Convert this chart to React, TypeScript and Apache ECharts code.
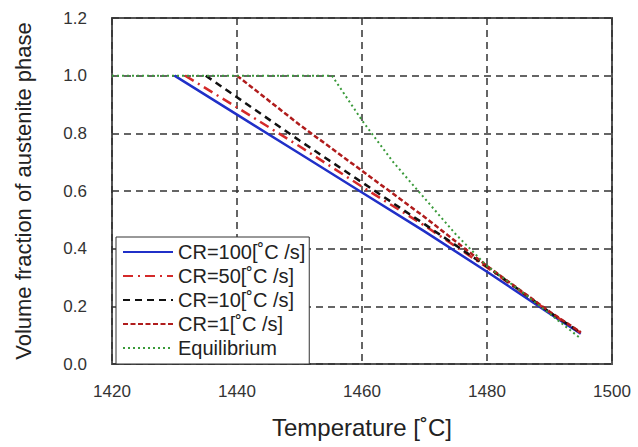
import React, { useEffect, useRef } from "react";
import * as echarts from "echarts";

const xTicks = [1420, 1440, 1460, 1480, 1500];
const yTicks = [0, 0.2, 0.4, 0.6, 0.8, 1.0, 1.2];

const seriesNames = [
  "CR=100[˚C /s]",
  "CR=50[˚C /s]",
  "CR=10[˚C /s]",
  "CR=1[˚C /s]",
  "Equilibrium",
];

const cr100 = [
  [1430, 1.0], [1440, 0.865], [1450, 0.73], [1460, 0.595], [1470, 0.46],
  [1480, 0.32], [1490, 0.175], [1495, 0.105],
];
const cr50 = [
  [1431.7, 1.0], [1440, 0.89], [1450, 0.755], [1460, 0.615], [1470, 0.48],
  [1480, 0.335], [1490, 0.18], [1495, 0.108],
];
const cr10 = [
  [1435, 1.0], [1440, 0.925], [1450, 0.775], [1460, 0.63], [1470, 0.485],
  [1480, 0.338], [1490, 0.18], [1495, 0.108],
];
const cr1 = [
  [1440, 1.0], [1450, 0.83], [1460, 0.67], [1470, 0.51], [1480, 0.34],
  [1490, 0.182], [1495, 0.11],
];
const equilibrium = [
  [1420, 1.0], [1455.2, 1.0], [1460, 0.845], [1465, 0.70], [1470, 0.575],
  [1475, 0.45], [1480, 0.34], [1485, 0.26], [1490, 0.175], [1495, 0.088],
];

const colors = ["#2030c8", "#d42a2a", "#111111", "#b01c1c", "#3a9a3a"];
const dashes: any[] = ["solid", [10, 5, 2, 5], [7, 5], [5, 2.5], [2, 3]];
const widths = [2.5, 2.5, 2.5, 2.5, 2];
const dataSets = [cr100, cr50, cr10, cr1, equilibrium];

export default function App() {
  const ref = useRef<HTMLDivElement>(null);
  useEffect(() => {
    if (!ref.current) return;
    const chart = echarts.init(ref.current, null, { renderer: "svg" });
    const font = "'Liberation Sans', Arial, sans-serif";
    chart.setOption({
      animation: false,
      backgroundColor: "#ffffff",
      textStyle: { fontFamily: font },
      grid: {
        left: 112,
        right: 26,
        top: 18,
        bottom: 83,
        show: true,
        borderColor: "#555555",
        borderWidth: 2,
        backgroundColor: "transparent",
      },
      legend: {
        orient: "vertical",
        left: 116,
        top: 237,
        data: seriesNames,
        backgroundColor: "#ffffff",
        borderColor: "#333333",
        borderWidth: 1,
        borderRadius: 0,
        padding: [5, 4, 6, 6],
        itemWidth: 50,
        itemHeight: 14,
        itemGap: 4,
        itemStyle: { opacity: 0 },
        textStyle: { fontSize: 20, color: "#222222", fontFamily: font },
      },
      xAxis: {
        type: "value",
        min: xTicks[0],
        max: xTicks[xTicks.length - 1],
        interval: 20,
        name: "Temperature [˚C]",
        nameLocation: "middle",
        nameGap: 51,
        nameTextStyle: { fontSize: 24, color: "#222222" },
        axisLine: { show: false },
        axisTick: { show: false },
        axisLabel: {
          fontSize: 17,
          color: "#333333",
          margin: 19,
          formatter: (v: number) => String(v),
        },
        splitLine: {
          show: true,
          lineStyle: { color: "#333333", type: [7, 5], width: 1.5 },
        },
      },
      yAxis: {
        type: "value",
        min: yTicks[0],
        max: yTicks[yTicks.length - 1],
        interval: 0.2,
        name: "Volume fraction of austenite phase",
        nameLocation: "middle",
        nameGap: 78,
        nameTextStyle: { fontSize: 22, color: "#222222" },
        axisLine: { show: false },
        axisTick: { show: false },
        axisLabel: {
          fontSize: 17,
          color: "#333333",
          margin: 25,
          formatter: (v: number) => v.toFixed(1),
        },
        splitLine: {
          show: true,
          lineStyle: { color: "#333333", type: [7, 5], width: 1.5 },
        },
      },
      series: dataSets.map((d, i) => ({
        name: seriesNames[i],
        type: "line",
        data: d,
        symbol: "none",
        showSymbol: false,
        lineStyle: { color: colors[i], type: dashes[i], width: widths[i] },
        itemStyle: { color: colors[i] },
      })),
    });
    return () => chart.dispose();
  }, []);
  return (
    <div
      ref={ref}
      style={{ position: "fixed", left: 0, top: 0, width: 638, height: 447 }}
    />
  );
}
